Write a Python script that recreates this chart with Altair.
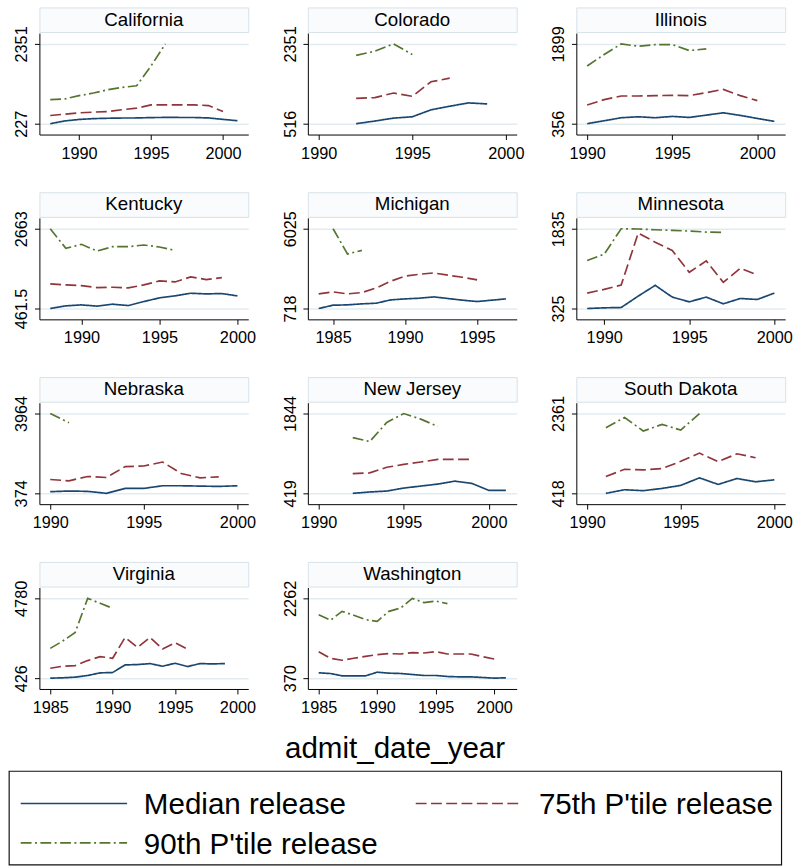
import altair as alt
import pandas as pd

FONT = "Liberation Sans"

STATES = [
    "California", "Colorado", "Illinois",
    "Kentucky", "Michigan", "Minnesota",
    "Nebraska", "New Jersey", "South Dakota",
    "Virginia", "Washington",
]

SERIES = ["Median release", "75th P'tile release", "90th P'tile release"]
COLORS = ["#1a476f", "#90353b", "#55752f"]
DASHES = [[1, 0], [11, 4.5], [11, 3.5, 2, 3.5]]

# first admission year of each series, per state
FIRST_MEDIAN = {"California": 1988, "Colorado": 1992, "Illinois": 1990, "Kentucky": 1988,
                "Michigan": 1984, "Minnesota": 1989, "Nebraska": 1990, "New Jersey": 1992,
                "South Dakota": 1991, "Virginia": 1985, "Washington": 1985}
FIRST_P75 = dict(FIRST_MEDIAN)
FIRST_P90 = dict(FIRST_MEDIAN, Michigan=1985)

MEDIAN = {
    "California": [227, 300, 340, 362, 372, 378, 380, 390, 394, 393, 392, 380, 342, 306],
    "Colorado": [516, 577, 645, 675, 835, 918, 994, 971],
    "Illinois": [356, 413, 471, 490, 471, 497, 477, 522, 567, 516, 458, 401],
    "Kentucky": [461.5, 535, 562, 526, 581, 544, 654, 755, 810, 883, 865, 874, 810],
    "Michigan": [718, 939, 961, 1028, 1072, 1293, 1359, 1404, 1492, 1381, 1271, 1182, 1271, 1359],
    "Minnesota": [325, 338, 344, 560, 763, 541, 452, 541, 414, 515, 496, 617],
    "Nebraska": [448, 478, 463, 374, 596, 596, 715, 715, 700, 685, 715],
    "New Jersey": [419, 443, 460, 513, 549, 584, 637, 596, 472, 472],
    "South Dakota": [418, 506, 482, 538, 611, 795, 635, 779, 699, 747],
    "Virginia": [426, 444, 480, 571, 715, 733, 1149, 1167, 1221, 1077, 1239, 1059, 1221, 1203, 1221],
    "Washington": [496, 480, 425, 425, 425, 511, 488, 480, 456, 433, 433, 409, 401, 401, 386, 370, 378],
}

P75 = {
    "California": [446, 480, 517, 535, 552, 600, 640, 727, 730, 727, 727, 710, 552],
    "Colorado": [1100, 1115, 1222, 1146, 1480, 1563],
    "Illinois": [719, 821, 892, 892, 899, 905, 899, 956, 1020, 899, 802],
    "Kentucky": [1140, 1113, 1094, 1039, 1049, 1030, 1113, 1223, 1195, 1333, 1260, 1315],
    "Michigan": [1691, 1824, 1691, 1780, 2089, 2531, 2880, 2996, 3085, 2930, 2797, 2620],
    "Minnesota": [617, 687, 769, 1753, 1581, 1423, 1010, 1226, 820, 1087, 960],
    "Nebraska": [997, 938, 1131, 1086, 1575, 1605, 1783, 1264, 1071, 1116],
    "New Jersey": [772, 784, 884, 936, 978, 1025, 1025, 1025],
    "South Dakota": [827, 1004, 988, 1020, 1197, 1398, 1189, 1381, 1285],
    "Virginia": [968, 1077, 1113, 1384, 1601, 1510, 2649, 2106, 2649, 2016, 2359, 2016],
    "Washington": [998, 841, 794, 841, 888, 927, 951, 943, 974, 967, 998, 943, 943, 943, 880, 825],
}

P90 = {
    "California": [868, 885, 973, 1043, 1131, 1193, 1237, 1765, 2351],
    "Colorado": [2086, 2184, 2351, 2108],
    "Illinois": [1472, 1695, 1899, 1854, 1886, 1886, 1771, 1803],
    "Kentucky": [2663, 2122, 2232, 2049, 2168, 2168, 2214, 2159, 2067],
    "Michigan": [6025, 4345, 4588],
    "Minnesota": [1232, 1353, 1835, 1830, 1816, 1803, 1791, 1772, 1765],
    "Nebraska": [3964, 3549],
    "New Jersey": [1414, 1344, 1685, 1844, 1744, 1614],
    "South Dakota": [2016, 2265, 1935, 2096, 1960, 2361],
    "Virginia": [2052, 2450, 2920, 4780, 4509, 4238],
    "Washington": [1875, 1742, 1954, 1860, 1758, 1718, 1954, 2032, 2262, 2160, 2199, 2136],
}

XTICKS = {
    "California": [1990, 1995, 2000], "Colorado": [1990, 1995, 2000],
    "Illinois": [1990, 1995, 2000], "Kentucky": [1990, 1995, 2000],
    "Michigan": [1985, 1990, 1995], "Minnesota": [1990, 1995, 2000],
    "Nebraska": [1990, 1995, 2000], "New Jersey": [1990, 1995, 2000],
    "South Dakota": [1990, 1995, 2000], "Virginia": [1985, 1990, 1995, 2000],
    "Washington": [1985, 1990, 1995, 2000],
}

PLOT_W, PLOT_H, HEAD_H = 212, 103, 25
EDGE = 11  # gap in px between the outermost values and the plot frame

color_scale = alt.Scale(domain=SERIES, range=COLORS)
dash_scale = alt.Scale(domain=SERIES, range=DASHES)


def state_frame(state):
    rows = []
    for name, first, table in zip(SERIES, (FIRST_MEDIAN, FIRST_P75, FIRST_P90), (MEDIAN, P75, P90)):
        for i, v in enumerate(table[state]):
            rows.append({"year": first[state] + i, "value": v, "series": name})
    return pd.DataFrame(rows)


def panel(state):
    df = state_frame(state)
    ticks = XTICKS[state]
    x_lo = min(int(df["year"].min()), ticks[0])
    x_hi = max(int(df["year"].max()), ticks[-1])
    x_pad = (x_hi - x_lo) * EDGE / (PLOT_W - 2 * EDGE)
    y_lo = float(df["value"].min())
    y_hi = float(df["value"].max())
    y_pad = (y_hi - y_lo) * EDGE / (PLOT_H - 2 * EDGE)

    lines = alt.Chart(df).mark_line(strokeWidth=1.7).encode(
        x=alt.X("year:Q",
                scale=alt.Scale(domain=[x_lo - x_pad, x_hi + x_pad], nice=False, zero=False),
                axis=alt.Axis(values=ticks, format="d", title=None, grid=False)),
        y=alt.Y("value:Q",
                scale=alt.Scale(domain=[y_lo - y_pad, y_hi + y_pad], nice=False, zero=False),
                axis=alt.Axis(values=[y_lo, y_hi], format=".1~f", title=None, grid=True)),
        color=alt.Color("series:N", scale=color_scale, legend=None),
        strokeDash=alt.StrokeDash("series:N", scale=dash_scale, legend=None),
    ).properties(width=PLOT_W, height=PLOT_H)

    # boxed title strip above each plot
    head = alt.Chart(alt.Data(values=[{"state": state}])).mark_text(
        font=FONT, fontSize=19, color="#000000"
    ).encode(text="state:N").properties(
        width=PLOT_W, height=HEAD_H,
        view=alt.ViewBackground(fill="#f9fbfc", stroke="#d5e2e9", strokeWidth=1),
    )
    return alt.vconcat(head, lines, spacing=1, bounds="flush")


grid = alt.concat(*[panel(s) for s in STATES], columns=3,
                  spacing={"row": 29.6, "column": 25.5})

# empty narrow column that sets the grid slightly inside the legend box
indent = alt.Chart(pd.DataFrame({"v": []})).mark_point().encode(
    x=alt.value(0), y=alt.value(0)
).properties(width=1, height=1)

x_title = alt.Chart(alt.Data(values=[{"label": "admit_date_year"}])).mark_text(
    font=FONT, fontSize=30, color="#000000", dy=6
).encode(text="label:N").properties(width=784, height=46)

legend_df = pd.DataFrame({
    "series": SERIES,
    "col": [i % 2 for i in range(len(SERIES))],
    "row": [i // 2 for i in range(len(SERIES))],
})
leg_base = alt.Chart(legend_df).encode(
    x=alt.X("col:Q", scale=alt.Scale(domain=[0, 1], range=[12, 413]), axis=None),
    y=alt.Y("row:Q", scale=alt.Scale(domain=[0, 1], range=[33, 73]), axis=None),
)
leg_lines = leg_base.mark_rule(strokeWidth=1.7, x2Offset=108).encode(
    x2=alt.X2("col:Q"),
    color=alt.Color("series:N", scale=color_scale, legend=None),
    strokeDash=alt.StrokeDash("series:N", scale=dash_scale, legend=None),
)
leg_text = leg_base.mark_text(align="left", dx=125, dy=2, font=FONT, fontSize=30,
                              color="#000000").encode(text="series:N")
legend = alt.layer(leg_lines, leg_text).properties(
    width=784, height=95,
    view=alt.ViewBackground(fill="white", stroke="#111111", strokeWidth=1.2),
)

chart = alt.vconcat(
    alt.hconcat(indent, grid, spacing=2),
    x_title,
    legend,
    spacing=4,
).properties(
    padding={"left": 8, "top": 0, "right": 4, "bottom": 0},
    background="white",
).configure_view(
    stroke="transparent"
).configure_axis(
    domainColor="#000000", domainWidth=1, tickColor="#000000", tickSize=5, tickWidth=1,
    labelFont=FONT, labelFontSize=16.5, labelColor="#000000", labelFlush=False,
    gridColor="#e2ecf0", gridWidth=1.5,
).configure_axisX(
    labelPadding=6
).configure_axisY(
    labelAngle=270, labelAlign="center", labelBaseline="bottom", labelPadding=5
)

chart.save("out.html", embed_options={"renderer": "svg", "actions": False})
